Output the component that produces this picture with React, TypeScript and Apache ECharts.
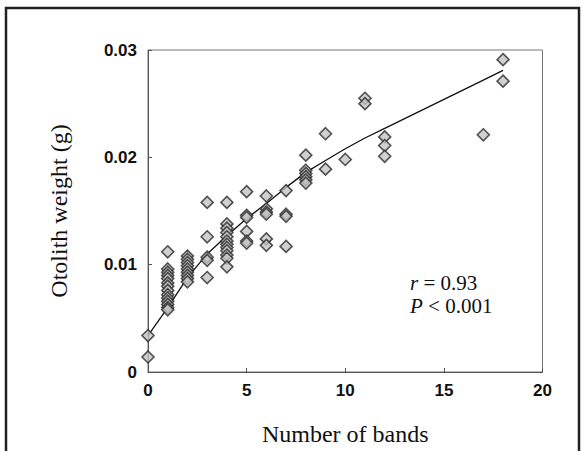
import React, { useEffect, useRef } from "react";
import * as echarts from "echarts";

// Number of bands for each fish
const bands: number[] = [
  0, 0,
  1, 1, 1, 1, 1, 1, 1, 1, 1, 1, 1, 1, 1, 1,
  2, 2, 2, 2, 2, 2, 2, 2, 2,
  3, 3, 3, 3, 3,
  4, 4, 4, 4, 4, 4, 4, 4, 4, 4, 4, 4,
  5, 5, 5, 5, 5, 5,
  6, 6, 6, 6, 6, 6,
  7, 7, 7, 7,
  8, 8, 8, 8, 8, 8,
  9, 9,
  10,
  11, 11,
  12, 12, 12,
  17,
  18, 18,
];

// Otolith weight (g) for each fish
const weights: number[] = [
  0.0034, 0.0014,
  0.0112, 0.0096, 0.0093, 0.009, 0.0087, 0.0083, 0.008, 0.0076, 0.0072, 0.0069, 0.0066, 0.0063, 0.006, 0.0058,
  0.0108, 0.0105, 0.0102, 0.0099, 0.0096, 0.0093, 0.009, 0.0087, 0.0084,
  0.0158, 0.0126, 0.0107, 0.0104, 0.0088,
  0.0158, 0.0138, 0.0134, 0.013, 0.0126, 0.0122, 0.0119, 0.0116, 0.0113, 0.0109, 0.0106, 0.0098,
  0.0168, 0.0146, 0.0144, 0.0131, 0.0122, 0.012,
  0.0164, 0.0152, 0.0149, 0.0147, 0.0124, 0.0118,
  0.0169, 0.0147, 0.0145, 0.0117,
  0.0202, 0.0188, 0.0185, 0.0182, 0.0179, 0.0176,
  0.0222, 0.0189,
  0.0198,
  0.0255, 0.025,
  0.0219, 0.0211, 0.0201,
  0.0221,
  0.0291, 0.0271,
];

// Fitted curve
const fitBands: number[] = [0, 1, 2, 3, 4, 5, 6, 7, 8, 9, 10, 11, 12, 17, 18];
const fitWeights: number[] = [
  0.0034, 0.006, 0.0088, 0.011, 0.0127, 0.0143, 0.0157, 0.0172, 0.0186, 0.0197, 0.0208, 0.0218, 0.0227, 0.0272, 0.0281,
];

const xTicks: number[] = [0, 5, 10, 15, 20];
const yTicks: string[] = ["0", "0.01", "0.02", "0.03"];
const statLines: string[] = ["{i|r} = 0.93", "{i|P} < 0.001"];

export default function App() {
  const ref = useRef<HTMLDivElement>(null);

  useEffect(() => {
    if (!ref.current) return;
    const chart = echarts.init(ref.current, undefined, { renderer: "svg" });
    const serif = "'Liberation Serif', 'DejaVu Serif', serif";
    const sans = "'Liberation Sans', Arial, sans-serif";
    const statText = (text: string, y: number) => ({
      type: "text",
      x: 410,
      y,
      style: {
        text,
        rich: {
          i: { fontStyle: "italic", fontFamily: serif, fontSize: 21, lineHeight: 21, fill: "#111" },
        },
        font: "21px " + serif,
        lineHeight: 21,
        fill: "#111",
        verticalAlign: "middle",
      },
    });
    chart.setOption({
      animation: false,
      backgroundColor: "#ffffff",
      grid: {
        left: 148,
        top: 50,
        right: 40.5,
        bottom: 79,
        show: true,
        borderColor: "#777",
        borderWidth: 1,
      },
      xAxis: {
        type: "value",
        min: xTicks[0],
        max: xTicks[xTicks.length - 1],
        interval: 5,
        name: "Number of bands",
        nameLocation: "middle",
        nameGap: 50,
        nameTextStyle: { fontFamily: serif, fontSize: 24, color: "#111" },
        axisLine: { show: true, lineStyle: { color: "#555", width: 1 } },
        axisTick: { show: true, inside: true, length: 4, lineStyle: { color: "#555" } },
        axisLabel: {
          margin: 10,
          fontFamily: sans,
          fontSize: 17,
          fontWeight: "bold",
          color: "#111",
        },
        splitLine: { show: false },
      },
      yAxis: {
        type: "value",
        min: 0,
        max: 0.03,
        interval: 0.01,
        name: "Otolith weight (g)",
        nameLocation: "middle",
        nameRotate: 90,
        nameGap: 77,
        nameTextStyle: { fontFamily: serif, fontSize: 24, color: "#111" },
        axisLine: { show: true, lineStyle: { color: "#555", width: 1 } },
        axisTick: { show: true, inside: true, length: 4, lineStyle: { color: "#555" } },
        axisLabel: {
          margin: 11,
          fontFamily: sans,
          fontSize: 17,
          fontWeight: "bold",
          color: "#111",
          formatter: (v: number) => yTicks[Math.round(v / 0.01)] ?? String(v),
        },
        splitLine: { show: false },
      },
      series: [
        {
          type: "line",
          data: fitBands.map((b, i) => [b, fitWeights[i]]),
          showSymbol: false,
          symbol: "none",
          lineStyle: { color: "#111", width: 1.3 },
          z: 2,
        },
        {
          type: "scatter",
          data: bands.map((b, i) => [b, weights[i]]),
          symbol: "diamond",
          symbolSize: [12, 12],
          itemStyle: { color: "#c4c4c4", borderColor: "#2a2a2a", borderWidth: 1.6 },
          z: 3,
        },
      ],
      graphic: [
        {
          type: "rect",
          shape: { x: 6, y: 8, width: 573, height: 470 },
          style: { fill: "none", stroke: "#222", lineWidth: 2.5 },
          silent: true,
        },
        statText(statLines[0], 283),
        statText(statLines[1], 305.5),
      ],
    });
    return () => chart.dispose();
  }, []);

  return (
    <div
      ref={ref}
      style={{ position: "fixed", left: 0, top: 0, width: 583, height: 451, background: "#fff" }}
    />
  );
}
